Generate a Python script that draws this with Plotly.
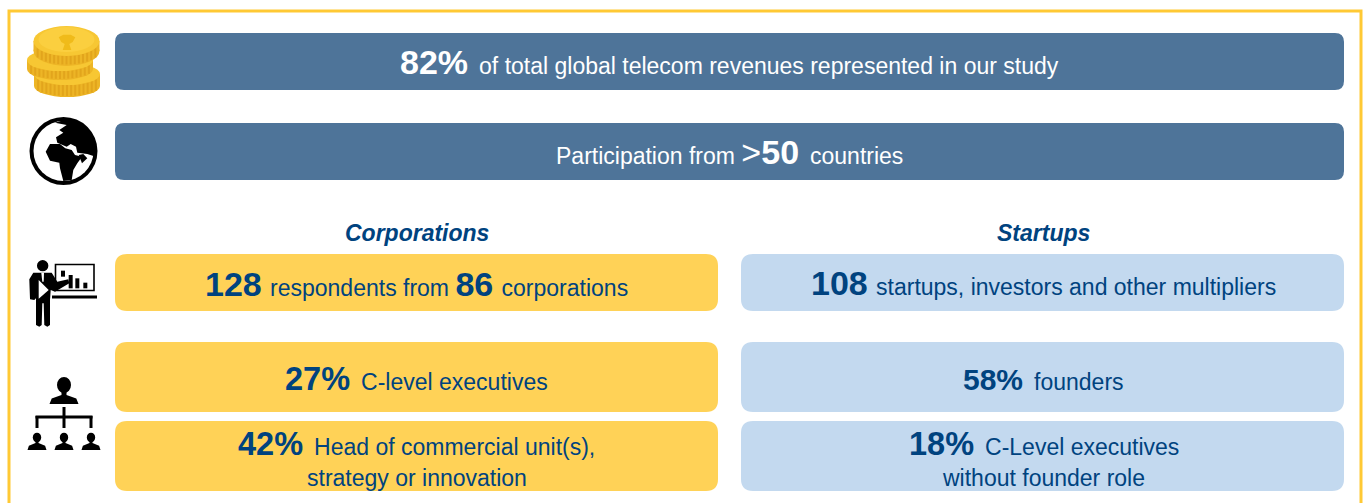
import plotly.graph_objects as go

W, H = 1365, 503
NAVY = "#00437F"
SLATE = "#4E7499"
AMBER = "#FFD257"
SKY = "#C3D9EF"
BORDER = "#FFC934"
FONT = "Liberation Sans"
GAP = "\u00a0\u2009"
TIGHT = "\u00a0\u200a"

# ---- content ----
column_titles = ["Corporations", "Startups"]
banner_runs = [
    [("82%", "big"), (GAP + "of total global telecom revenues represented in our study", "txt")],
    [("Participation from ", "txt"), (">", "gt"), ("50", "big"), (GAP + "countries", "txt")],
]
corp_runs = [
    [("128", "big"), (TIGHT + "respondents from ", "txt"), ("86", "big"), ("\u00a0\u200a", "txt"), ("corporations", "txt")],
    [("27%", "mid"), (GAP + "C-level executives", "txt")],
    [("42%", "mid"), (GAP + "Head of commercial unit(s),", "txt")],
    [("strategy or innovation", "txt")],
]
startup_runs = [
    [("108", "big"), (TIGHT + "startups, investors and other multipliers", "txt")],
    [("58%", "small"), (GAP + "founders", "txt")],
    [("18%", "mid"), (GAP + "C-Level executives", "txt")],
    [("without founder role", "txt")],
]

# ---- layout geometry ----
banner_boxes = [(115, 33, 1344, 90), (115, 123, 1344, 180)]
row_boxes = [(254, 311), (342, 412), (421, 491)]
col_x = [(115, 718), (741, 1344)]
banner_y = [62, 152]
corp_y = [284, 379, 444, 478]
start_y = [283, 379, 444, 478]
SIZES = {"big": 34, "mid": 32.5, "small": 30, "gt": 34, "txt": 23}

shapes, annotations = [], []


def rrect(x0, y0, x1, y1, r, fill):
    d = (f"M{x0+r},{y0} L{x1-r},{y0} Q{x1},{y0} {x1},{y0+r} L{x1},{y1-r} Q{x1},{y1} {x1-r},{y1} "
         f"L{x0+r},{y1} Q{x0},{y1} {x0},{y1-r} L{x0},{y0+r} Q{x0},{y0} {x0+r},{y0} Z")
    shapes.append(dict(type="path", path=d, fillcolor=fill, line_width=0, layer="below"))


def rich(runs):
    out = []
    for text, kind in runs:
        span = f'<span style="font-size:{SIZES[kind]}px">{text}</span>'
        out.append(f"<b>{span}</b>" if kind in ("big", "mid", "small") else span)
    return "".join(out)


def label(x, y, text, colour, size=23):
    annotations.append(dict(x=x, y=y, text=text, showarrow=False, xanchor="center", yanchor="middle",
                            font=dict(family=FONT, size=size, color=colour), xref="x", yref="y",
                            align="center"))


def poly(points, fill="#000000", scale=3.0, oy=0.0, close=True):
    pts = [(p[0] / scale, oy + p[1] / scale) for p in points]
    d = "M" + " L".join(f"{x:.1f},{y:.1f}" for x, y in pts) + (" Z" if close else "")
    shapes.append(dict(type="path", path=d, fillcolor=fill, line_width=0))


def ell(cx, cy, rx, ry, fill):
    shapes.append(dict(type="circle", x0=cx-rx, x1=cx+rx, y0=cy-ry, y1=cy+ry, fillcolor=fill, line_width=0))


def bar(x0, y0, x1, y1, fill="#000000"):
    shapes.append(dict(type="rect", x0=x0, x1=x1, y0=y0, y1=y1, fillcolor=fill, line_width=0))


# frame (bottom edge runs off the canvas)
shapes.append(dict(type="path", path="M9,520 L9,11 L1361,11 L1361,520", line=dict(color=BORDER, width=3),
                   fillcolor="rgba(0,0,0,0)", layer="below"))

# boxes
for b in banner_boxes:
    rrect(*b, 9, SLATE)
for (x0, x1), fill in zip(col_x, (AMBER, SKY)):
    for y0, y1 in row_boxes:
        rrect(x0, y0, x1, y1, 12, fill)

# texts
for runs, y in zip(banner_runs, banner_y):
    label(729.5, y, rich(runs), "#FFFFFF")
for title, (x0, x1) in zip(column_titles, col_x):
    label((x0 + x1) / 2 + 0.5, 233, f"<b><i>{title}</i></b>", NAVY, 23)
for runs, y in zip(corp_runs, corp_y):
    label(416.5, y, rich(runs), NAVY)
for runs, y in zip(startup_runs, start_y):
    label(1043.5, y, rich(runs), NAVY)


# coin icon
def coin(cx, top, rx, ry, depth):
    ell(cx, top + depth, rx, ry, "#EDB526")
    bar(cx - rx, top, cx + rx, top + depth, "#EDB526")
    for i in range(-7, 8):
        sx = cx + i * rx / 8
        off = ry * (1 - (i / 8) ** 2) ** 0.5
        bar(sx - 1, top + off, sx + 1, top + depth + off * 0.9, "#E2A51C")
    ell(cx, top, rx, ry, "#F7C733")


coin(67, 74, 33, 11, 12)
coin(60, 60, 33, 11, 9)
coin(66.5, 41, 33, 15, 10)
ell(66.5, 39.5, 28, 12.5, "#FBCF3F")
poly([(176, 112), (190, 104), (212, 104), (226, 112), (218, 126), (208, 132), (214, 150), (188, 150), (194, 132), (184, 126)], "#F0BB1A")

# globe icon
ell(63.5, 151, 34, 34, "#000000")
ell(63.5, 151, 30, 30, "#FFFFFF")
poly([(165, 368), (200, 358), (245, 372), (270, 395), (285, 430), (287, 470), (262, 462), (232, 458),
      (228, 440), (212, 432), (200, 440), (172, 428), (168, 412), (190, 398), (178, 390), (200, 375)])
poly([(137, 455), (150, 432), (180, 432), (196, 445), (215, 450), (225, 465), (246, 470), (232, 490),
      (220, 510), (215, 540), (190, 543), (180, 505), (178, 488), (150, 482)])
poly([(236, 465), (250, 462), (262, 475), (246, 490)])

# presenter icon (offset 240)
OY = 240
ell(128 / 3, OY + 77 / 3, 5.7, 5.7, "#000000")
poly([(100, 98), (155, 98), (172, 125), (205, 118), (208, 130), (165, 155), (152, 150), (150, 180),
      (150, 255), (142, 260), (133, 255), (131, 190), (127, 190), (125, 255), (118, 260), (108, 255),
      (108, 175), (103, 180), (90, 178), (88, 118)], oy=OY)
poly([(116, 120), (146, 150), (116, 176)], "#FFFFFF", oy=OY)
poly([(124, 98), (132, 98), (131, 125), (127, 125)], "#FFFFFF", oy=OY)
shapes.append(dict(type="rect", x0=55.5, x1=94, y0=OY + 24.5, y1=OY + 50.5, line=dict(color="#000000", width=1.6),
                   fillcolor="rgba(0,0,0,0)"))
for bx0, by0, bx1 in [(183, 92, 195), (206, 105, 218), (226, 115, 238), (250, 128, 262)]:
    bar(bx0 / 3, OY + by0 / 3, bx1 / 3, OY + (110 if bx0 == 183 else 145) / 3)
bar(52, OY + 55.5, 97, OY + 58.5)


# org chart icon
def person(cx, head_y, rh, sh_y, sw, base):
    ell(cx, head_y, rh, rh * 1.15, "#000000")
    poly([(cx - sw, base), (cx - sw * 0.85, base - (base - sh_y) * 0.6), (cx - rh * 0.35, sh_y),
          (cx - rh * 0.35, head_y), (cx + rh * 0.35, head_y), (cx + rh * 0.35, sh_y),
          (cx + sw * 0.85, base - (base - sh_y) * 0.6), (cx + sw, base)], scale=1)


person(64, 385, 7, 395, 14.5, 404)
for cx in (37, 64, 91):
    person(cx, 437.5, 4.2, 443, 9.5, 450)
bar(62.5, 407, 65.5, 428)
bar(35.5, 415.5, 92.5, 418.5)
bar(35.5, 416, 38.5, 428)
bar(89.5, 416, 92.5, 428)

fig = go.Figure()
fig.update_layout(width=W, height=H, margin=dict(l=0, r=0, t=0, b=0), paper_bgcolor="#FFFFFF", plot_bgcolor="#FFFFFF",
                  xaxis=dict(range=[0, W], visible=False, fixedrange=True),
                  yaxis=dict(range=[H, 0], visible=False, fixedrange=True),
                  shapes=shapes, annotations=annotations, showlegend=False)
fig.write_html("out.html", config={"displayModeBar": False},
               post_script="document.body.style.margin='0';document.body.style.overflow='hidden';")
